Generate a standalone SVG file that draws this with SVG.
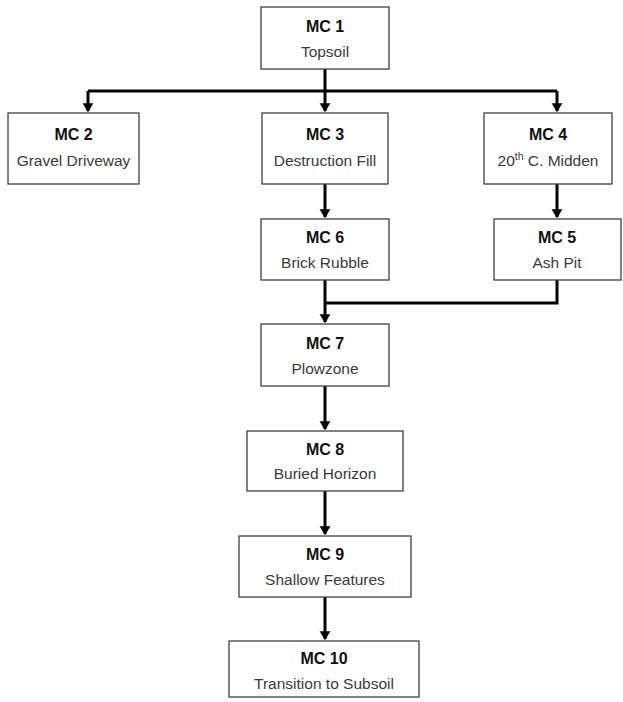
<svg xmlns="http://www.w3.org/2000/svg" width="623" height="702" viewBox="0 0 623 702">
<defs>
<marker id="ah" markerWidth="4" markerHeight="4" refX="2.6" refY="2" orient="auto" markerUnits="strokeWidth">
<path d="M0,0.2 L3,2 L0,3.8 Z" fill="#000"/>
</marker>
<style>
.box{fill:#fff;stroke:#404040;stroke-width:1.3}
.t{font-family:"Liberation Sans",Arial,sans-serif;font-size:15.5px;text-anchor:middle;fill:#3a3a3a}
.b{font-weight:bold;font-size:16px;fill:#111}
.c{fill:none;stroke:#000;stroke-width:3}
</style>
</defs>
<rect width="623" height="702" fill="#fff"/>
<g id="connectors">
<path class="c" d="M325,69 V91"/>
<path class="c" d="M88,91 H557"/>
<path class="c" d="M88,91 V111" marker-end="url(#ah)"/>
<path class="c" d="M325,91 V111" marker-end="url(#ah)"/>
<path class="c" d="M557,91 V111" marker-end="url(#ah)"/>
<path class="c" d="M325,184 V217" marker-end="url(#ah)"/>
<path class="c" d="M557,184 V217" marker-end="url(#ah)"/>
<path class="c" d="M325,280 V322" marker-end="url(#ah)"/>
<path class="c" d="M557,280 V303 H325"/>
<path class="c" d="M325,386 V429" marker-end="url(#ah)"/>
<path class="c" d="M325,491 V534" marker-end="url(#ah)"/>
<path class="c" d="M325,597 V639" marker-end="url(#ah)"/>
</g>
<g id="mc1"><rect class="box" x="261" y="7" width="128" height="62"/><text class="t b" x="325" y="32">MC 1</text><text class="t" x="325" y="57">Topsoil</text></g>
<g id="mc2"><rect class="box" x="8" y="113" width="131" height="71"/><text class="t b" x="73.5" y="140">MC 2</text><text class="t" x="73.5" y="166">Gravel Driveway</text></g>
<g id="mc3"><rect class="box" x="262" y="113" width="126" height="71"/><text class="t b" x="325" y="140">MC 3</text><text class="t" x="325" y="166">Destruction Fill</text></g>
<g id="mc4"><rect class="box" x="484" y="113" width="128" height="71"/><text class="t b" x="548" y="140">MC 4</text><text class="t" x="548" y="166">20<tspan font-size="10.5" dy="-6">th</tspan><tspan dy="6"> C. Midden</tspan></text></g>
<g id="mc6"><rect class="box" x="261" y="219" width="128" height="61"/><text class="t b" x="325" y="243">MC 6</text><text class="t" x="325" y="268">Brick Rubble</text></g>
<g id="mc5"><rect class="box" x="494" y="219" width="127" height="61"/><text class="t b" x="557" y="243">MC 5</text><text class="t" x="557" y="268">Ash Pit</text></g>
<g id="mc7"><rect class="box" x="261" y="324" width="128" height="62"/><text class="t b" x="325" y="349">MC 7</text><text class="t" x="325" y="374">Plowzone</text></g>
<g id="mc8"><rect class="box" x="247" y="431" width="156" height="60"/><text class="t b" x="325" y="455">MC 8</text><text class="t" x="325" y="479">Buried Horizon</text></g>
<g id="mc9"><rect class="box" x="239" y="536" width="172" height="61"/><text class="t b" x="325" y="560">MC 9</text><text class="t" x="325" y="585">Shallow Features</text></g>
<g id="mc10"><rect class="box" x="229" y="641" width="190" height="56"/><text class="t b" x="324" y="664">MC 10</text><text class="t" x="324" y="689">Transition to Subsoil</text></g>
</svg>
